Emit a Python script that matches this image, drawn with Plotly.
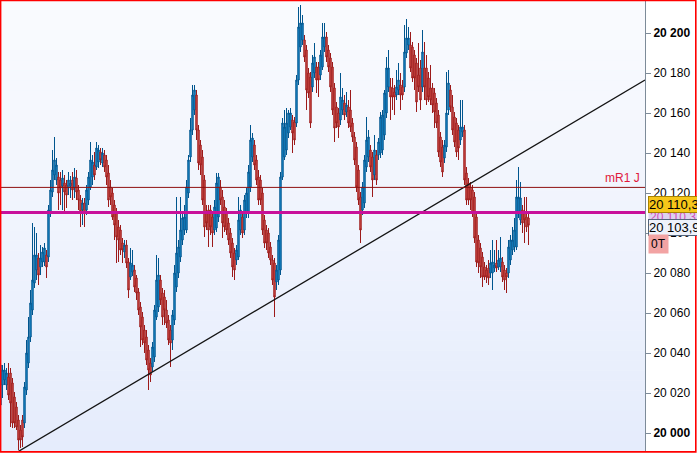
import plotly.graph_objects as go

# ---------------- data ----------------
open_a = [20014, 20024, 20026.5, 20024, 20028, 20030, 20025, 20018, 20013, 20006.5,
          20001.5, 20006.5, 20005, 20021.5, 20035, 20048, 20061.5, 20075, 20081.5, 20087.5,
          20083, 20085.5, 20085.5, 20089, 20088, 20110.5, 20120.5, 20129, 20126.5, 20128,
          20126.5, 20123.5, 20125, 20124, 20122.5, 20123.5, 20126.5, 20122.5, 20127.5, 20121.5,
          20116.5, 20111.5, 20115, 20111.5, 20116.5, 20123, 20128, 20134, 20133, 20135.5,
          20140.5, 20135, 20139, 20136.5]
high_a = [20043, 20034, 20035, 20032.5, 20035, 20032.5, 20027.5, 20020.5, 20015.5, 20009,
          20004, 20009, 20025.5, 20046.5, 20058, 20071.5, 20105, 20103, 20100, 20090,
          20094, 20093, 20095, 20091.5, 20114, 20126.5, 20141.5, 20148, 20137.5, 20130.5,
          20130.5, 20131.5, 20129, 20126.5, 20130.5, 20128.5, 20130.5, 20132.5, 20131.5, 20124,
          20119, 20117.5, 20117.5, 20124, 20130.5, 20145.5, 20139, 20140.5, 20145.5, 20144,
          20142.5, 20142.5, 20141.5, 20139]
low_a = [20010.5, 20017.5, 20024, 20021.5, 20016.5, 20003, 20002.5, 20002.5, 20001.5, 19991.5,
         19992.5, 19993, 20002.5, 20019, 20032.5, 20045.5, 20059, 20072.5, 20076.5, 20074,
         20079, 20083, 20083.5, 20077.5, 20085.5, 20108, 20118, 20126.5, 20124, 20111.5,
         20114, 20111.5, 20110.5, 20112.5, 20119, 20117.5, 20116.5, 20117.5, 20116.5, 20111.5,
         20103, 20104, 20103, 20109, 20114, 20121.5, 20124, 20126.5, 20131.5, 20132.5,
         20134, 20133, 20130.5, 20124]
close_a = [20034, 20031.5, 20031.5, 20030, 20019, 20015, 20005, 20005, 20003, 19996.5,
           19996.5, 19998, 20023, 20040, 20048, 20065, 20076.5, 20089, 20089, 20079,
           20087.5, 20090.5, 20092.5, 20083, 20111.5, 20121.5, 20131.5, 20136.5, 20134, 20120,
           20122.5, 20127.5, 20120.5, 20119, 20126.5, 20125, 20121.5, 20128, 20120.5, 20116.5,
           20110.5, 20115, 20110, 20121.5, 20128, 20136.5, 20135.5, 20129, 20142.5, 20141.5,
           20136.5, 20140, 20133, 20128]

open_b = [20130, 20123, 20120, 20114, 20110, 20103, 20101.5, 20095, 20090.5, 20094,
          20085.5, 20078, 20080.5, 20081.5, 20077.5, 20070.5, 20063, 20058, 20051.5, 20048,
          20041.5, 20035, 20033, 20038, 20058, 20063, 20076.5, 20070, 20068, 20061.5,
          20056.5, 20051.5, 20046.5, 20056.5, 20073, 20080, 20088, 20096.5, 20101.5, 20101.5,
          20120, 20138, 20151.5, 20161.5, 20169, 20151.5, 20144, 20138, 20126.5, 20110,
          20111.5]
high_b = [20134, 20126.5, 20122.5, 20116.5, 20112.5, 20106.5, 20104, 20097.5, 20096.5, 20096.5,
          20087.5, 20092.5, 20091.5, 20084, 20079, 20072.5, 20065.5, 20060.5, 20054, 20051.5,
          20044, 20037.5, 20045.5, 20064, 20089, 20087.5, 20079, 20072.5, 20071.5, 20066.5,
          20059, 20054, 20061.5, 20084, 20118, 20096.5, 20118, 20110.5, 20114, 20126.5,
          20139, 20157.5, 20174, 20174, 20171.5, 20154, 20146.5, 20141.5, 20129, 20114,
          20114]
low_b = [20113, 20114, 20106.5, 20096.5, 20085, 20085.5, 20089, 20085, 20087.5, 20082.5,
         20067.5, 20076.5, 20078.5, 20070.5, 20066.5, 20059, 20043, 20044, 20040, 20034,
         20021.5, 20025.5, 20030.5, 20035.5, 20056.5, 20060.5, 20064, 20054, 20054, 20052.5,
         20044, 20033, 20041.5, 20054, 20070.5, 20077.5, 20085.5, 20094, 20099, 20100,
         20117.5, 20135.5, 20149, 20159, 20146.5, 20131.5, 20129, 20114, 20098, 20101.5,
         20093]
close_b = [20116.5, 20118, 20108, 20104, 20098, 20096.5, 20091.5, 20091.5, 20094, 20085,
           20071.5, 20085, 20084, 20073, 20070, 20061.5, 20053, 20046.5, 20045, 20036.5,
           20031.5, 20029, 20043, 20061.5, 20076.5, 20079, 20066.5, 20058, 20061.5, 20055,
           20046.5, 20045, 20059, 20080, 20090, 20093, 20101.5, 20107.5, 20108, 20123,
           20136.5, 20151.5, 20169, 20171.5, 20151.5, 20135, 20134, 20116.5, 20103, 20105,
           20101.5]

open_c = [20111.5, 20108, 20101.5, 20102.5, 20108, 20123, 20118, 20113, 20110, 20105,
          20100, 20095, 20090, 20086.5, 20088, 20101.5, 20108, 20101.5, 20110, 20110,
          20123, 20138, 20144, 20136.5, 20128, 20126.5, 20120, 20106.5, 20101.5, 20100,
          20093, 20086.5, 20085, 20075.5, 20076.5, 20081.5, 20128, 20138, 20141.5, 20150,
          20153, 20156.5, 20155.5, 20155, 20176.5, 20193, 20196.5, 20196.5, 20191.5, 20180,
          20178, 20173, 20180]
high_c = [20114, 20110.5, 20116.5, 20130, 20130, 20126.5, 20121.5, 20116.5, 20112.5, 20107.5,
          20102.5, 20097.5, 20092.5, 20094, 20118, 20114, 20110.5, 20119, 20122.5, 20134,
          20154, 20150, 20146.5, 20139, 20131.5, 20129, 20122.5, 20109, 20104, 20102.5,
          20095.5, 20089, 20087.5, 20084, 20099, 20130.5, 20157.5, 20161.5, 20162.5, 20161.5,
          20162.5, 20159, 20158, 20179, 20213, 20214, 20209, 20199, 20194, 20182.5,
          20180.5, 20189, 20195]
low_c = [20099, 20093, 20099, 20100.5, 20105.5, 20114, 20097.5, 20100.5, 20099, 20094,
         20087.5, 20078, 20076.5, 20084, 20086.5, 20099, 20097.5, 20099, 20107.5, 20107.5,
         20120.5, 20135.5, 20131.5, 20124, 20114, 20114, 20099, 20092.5, 20091.5, 20087.5,
         20084, 20074, 20058, 20071.5, 20074, 20079, 20126.5, 20136.5, 20139, 20147.5,
         20151.5, 20140, 20144, 20153, 20174, 20190.5, 20194, 20185.5, 20161.5, 20167.5,
         20152.5, 20170.5, 20177.5]
close_c = [20103, 20100, 20113, 20125, 20128, 20116.5, 20105, 20103, 20101.5, 20096.5,
           20090, 20083, 20081.5, 20091.5, 20106.5, 20111.5, 20100, 20116.5, 20120, 20130.5,
           20146.5, 20147.5, 20134, 20126.5, 20116.5, 20116.5, 20101.5, 20095, 20095, 20090,
           20086.5, 20076.5, 20068, 20081.5, 20096.5, 20128, 20155, 20153, 20155, 20160,
           20160, 20150, 20146.5, 20176.5, 20203, 20205, 20205, 20188, 20171.5, 20170,
           20155, 20185, 20188]

open_d = [20183, 20183, 20179, 20183, 20193, 20198, 20191.5, 20187.5, 20183, 20172.5,
          20163, 20160, 20156.5, 20161.5, 20165, 20160.5, 20163, 20161.5, 20155, 20148,
          20143, 20131.5, 20118, 20111.5, 20115, 20133, 20138, 20141.5, 20138, 20129,
          20139, 20139, 20140, 20141.5, 20149, 20160, 20173, 20173, 20172.5, 20170.5,
          20169, 20171.5, 20174, 20173, 20173, 20190, 20194, 20194, 20193, 20189,
          20185, 20179, 20182.5, 20173, 20182.5, 20182.5, 20177.5, 20172.5, 20172.5, 20170,
          20165, 20159, 20148, 20143, 20137.5, 20143, 20161.5, 20171.5, 20163, 20158,
          20155, 20151.5, 20146.5, 20150.5, 20151.5, 20130, 20125, 20123, 20121.5, 20118,
          20108, 20096.5, 20092.5, 20088, 20083, 20081.5, 20082.5, 20080, 20080, 20082.5,
          20085, 20083, 20083, 20085.5, 20081.5, 20080, 20080, 20086.5, 20091.5, 20093,
          20093, 20110, 20106.5, 20111.5, 20110, 20108, 20107.5]
high_d = [20185.5, 20185.5, 20191.5, 20205, 20205, 20200.5, 20194, 20190, 20185.5, 20175,
          20165.5, 20162.5, 20180, 20172.5, 20169, 20170.5, 20166.5, 20171.5, 20157.5, 20150.5,
          20145.5, 20134, 20120.5, 20125.5, 20139, 20158, 20151.5, 20144, 20140.5, 20149,
          20141.5, 20147.5, 20160.5, 20161.5, 20171.5, 20188, 20191.5, 20177.5, 20177.5, 20174,
          20181.5, 20185, 20180, 20176.5, 20204, 20207, 20203, 20200.5, 20195.5, 20191.5,
          20187.5, 20195, 20186.5, 20201.5, 20195.5, 20189, 20180.5, 20184, 20175, 20172.5,
          20167.5, 20161.5, 20150.5, 20146.5, 20146.5, 20180.5, 20181.5, 20174, 20169, 20160.5,
          20157.5, 20154, 20166.5, 20166.5, 20154, 20133, 20127.5, 20125.5, 20124, 20120.5,
          20110.5, 20099, 20095, 20090.5, 20085.5, 20084, 20086.5, 20091.5, 20096.5, 20091.5,
          20096.5, 20091.5, 20098, 20088, 20084, 20082.5, 20096.5, 20099, 20103, 20107.5,
          20126.5, 20133, 20125.5, 20114, 20118, 20118, 20110]
low_d = [20170, 20168, 20176.5, 20181.5, 20190.5, 20185.5, 20180.5, 20170.5, 20159, 20145.5,
         20152.5, 20147.5, 20154, 20159, 20156.5, 20158, 20152.5, 20150.5, 20145.5, 20134,
         20120.5, 20114, 20095, 20109, 20112.5, 20130.5, 20135.5, 20130.5, 20118, 20126.5,
         20124, 20136.5, 20137.5, 20139, 20146.5, 20157.5, 20170.5, 20156.5, 20161.5, 20159,
         20166.5, 20169, 20161.5, 20166.5, 20170.5, 20187.5, 20191.5, 20180.5, 20175.5, 20171.5,
         20160.5, 20170.5, 20161.5, 20170.5, 20166.5, 20164, 20165.5, 20164, 20160, 20152.5,
         20152.5, 20138, 20133, 20128, 20135, 20140.5, 20159, 20160.5, 20149, 20143,
         20138, 20136.5, 20144, 20148, 20124, 20114, 20114, 20111.5, 20108, 20095,
         20083, 20080, 20077.5, 20073, 20076.5, 20075, 20074, 20077.5, 20071.5, 20080.5,
         20080.5, 20081.5, 20080.5, 20075.5, 20071.5, 20070, 20077.5, 20084, 20089, 20090.5,
         20091.5, 20107.5, 20104, 20100, 20095, 20100.5, 20094]
close_d = [20176.5, 20176.5, 20189, 20198, 20198, 20188, 20183, 20173, 20161.5, 20152.5,
           20155, 20153, 20168, 20166.5, 20159, 20164, 20155, 20153, 20148, 20136.5,
           20123, 20116.5, 20101.5, 20123, 20136.5, 20146.5, 20148, 20133, 20126.5, 20141.5,
           20126.5, 20145.5, 20158, 20159, 20170, 20182.5, 20182.5, 20168, 20168, 20168,
           20173, 20176.5, 20169, 20169, 20190.5, 20197.5, 20197.5, 20182.5, 20177.5, 20177.5,
           20165.5, 20173, 20166.5, 20190.5, 20173, 20166.5, 20168, 20166.5, 20164, 20160.5,
           20155, 20140.5, 20135.5, 20130.5, 20144, 20160, 20175, 20163, 20151.5, 20145.5,
           20140.5, 20142.5, 20153, 20153, 20126.5, 20116.5, 20116.5, 20116.5, 20110, 20097.5,
           20085.5, 20085, 20083, 20078, 20078, 20078, 20077.5, 20085, 20085.5, 20084,
           20082.5, 20086.5, 20087.5, 20078, 20076.5, 20078, 20093, 20096.5, 20096.5, 20101.5,
           20118, 20118, 20117.5, 20105, 20106.5, 20103, 20103.9]

open_prices = open_a + open_b + open_c + open_d
high_prices = high_a + high_b + high_c + high_d
low_prices = low_a + low_b + low_c + low_d
close_prices = close_a + close_b + close_c + close_d

# reference levels
mr1_level = 20122.8          # "mR1 J" line
mr1_label = "mR1 J"
magenta_level = 20110.3      # magenta horizontal line / yellow tag
last_price = close_prices[-1]
tag_extra = "0T"

# trendline anchor points (bar index, price)
trend_x = [8.5, 322.25]
trend_y = [19990.5, 20176.5]

# y axis ticks
tick_values = [20000, 20020, 20040, 20060, 20080, 20100, 20120, 20140, 20160, 20180, 20200]
bold_ticks = [20000, 20200]

# ---------------- figure ----------------
n = min(len(open_prices), len(high_prices), len(low_prices), len(close_prices))
x_idx = list(range(n))

FONT = "Liberation Sans, Arial, sans-serif"
W, H = 697, 453
ML, MR, MT, MB = 0, 52, 0, 2
PW, PH = W - ML - MR, H - MT - MB


def fmt(v):
    s = f"{v:,.1f}"
    return s.replace(",", " ").replace(".", ",")


def fmt_tick(v):
    return f"{int(v):,}".replace(",", " ")


fig = go.Figure()

fig.add_trace(go.Candlestick(
    x=x_idx,
    open=open_prices[:n], high=high_prices[:n], low=low_prices[:n], close=close_prices[:n],
    increasing=dict(line=dict(color="#00558e", width=1), fillcolor="#1d97dc"),
    decreasing=dict(line=dict(color="#9c1a1a", width=1), fillcolor="#de5b55"),
    whiskerwidth=0,
    showlegend=False,
    hoverinfo="skip",
))

fig.add_trace(go.Scatter(
    x=trend_x, y=trend_y, mode="lines",
    line=dict(color="#141414", width=1.3),
    showlegend=False, hoverinfo="skip",
))

shapes = []
# gradient plot background
bands = 45
top = (250, 251, 254)
bot = (229, 236, 252)
for k in range(bands):
    t = (k + 0.5) / bands
    c = tuple(int(round(bot[j] + (top[j] - bot[j]) * t)) for j in range(3))
    shapes.append(dict(type="rect", xref="paper", yref="paper",
                       x0=0, x1=1, y0=k / bands, y1=(k + 1) / bands,
                       fillcolor=f"rgb{c}", line=dict(width=0), layer="below"))

# horizontal levels
shapes.append(dict(type="line", xref="paper", yref="y", x0=0, x1=1,
                   y0=mr1_level, y1=mr1_level, line=dict(color="#8e1010", width=1)))
shapes.append(dict(type="line", xref="paper", yref="y", x0=0, x1=1,
                   y0=magenta_level, y1=magenta_level, line=dict(color="#c8109a", width=3)))

# red frame around the whole chart
shapes.append(dict(type="rect", xref="paper", yref="paper",
                   x0=0.6 / PW, x1=(W - 1.2) / PW,
                   y0=-0.9 / PH, y1=1 - 0.5 / PH,
                   line=dict(color="#ff0000", width=1.6), fillcolor="rgba(0,0,0,0)"))

annotations = [
    dict(text=mr1_label, xref="paper", yref="y", x=1, y=mr1_level,
         xanchor="right", yanchor="bottom", xshift=-3, yshift=0, showarrow=False,
         font=dict(family=FONT, size=12, color="#e0183c")),
    dict(text=fmt(magenta_level), xref="paper", yref="y", x=1, y=magenta_level,
         xanchor="left", yanchor="middle", xshift=3, yshift=-5, showarrow=False,
         bgcolor="#ddd2ef", borderpad=1,
         font=dict(family=FONT, size=12, color="#d24fb8")),
    dict(text=fmt(magenta_level), xref="paper", yref="y", x=1, y=magenta_level,
         xanchor="left", yanchor="middle", xshift=3, yshift=8, showarrow=False,
         bgcolor="#f6c619", bordercolor="#a88400", borderwidth=1, borderpad=0,
         font=dict(family=FONT, size=13, color="#000000")),
    dict(text=fmt(last_price), xref="paper", yref="y", x=1, y=last_price,
         xanchor="left", yanchor="middle", xshift=3, yshift=-2, showarrow=False,
         bgcolor="#eef2fb", bordercolor="#52647a", borderwidth=1, borderpad=0,
         font=dict(family=FONT, size=13, color="#000000")),
    dict(text=tag_extra, xref="paper", yref="y", x=1, y=last_price,
         xanchor="left", yanchor="middle", xshift=3, yshift=-19, showarrow=False,
         bgcolor="#f2a3a3", borderpad=2,
         font=dict(family=FONT, size=12, color="#000000")),
]

tick_text = [f"<b>{fmt_tick(v)}</b>" if v in bold_ticks else fmt_tick(v) for v in tick_values]

fig.update_layout(
    width=W, height=H,
    margin=dict(l=ML, r=MR, t=MT, b=MB, pad=0),
    paper_bgcolor="#ffffff",
    plot_bgcolor="#f2f5fd",
    shapes=shapes,
    annotations=annotations,
    boxgap=0.0,
    font=dict(family=FONT, size=12, color="#000000"),
    xaxis=dict(range=[-0.25, 322.25], visible=False, rangeslider=dict(visible=False),
               showgrid=False, zeroline=False),
    yaxis=dict(side="right", range=[19991, 20216.5], tickmode="array",
               tickvals=tick_values, ticktext=tick_text,
               showgrid=False, zeroline=False, showline=True, linecolor="#7d8b99",
               linewidth=1, ticks="outside", ticklen=5, tickcolor="#7d8b99",
               tickfont=dict(family=FONT, size=12, color="#000000")),
    hovermode=False,
)

fig.write_html(
    "out.html",
    config={"displayModeBar": False},
    post_script="document.body.style.margin='0';document.body.style.overflow='hidden';",
)
